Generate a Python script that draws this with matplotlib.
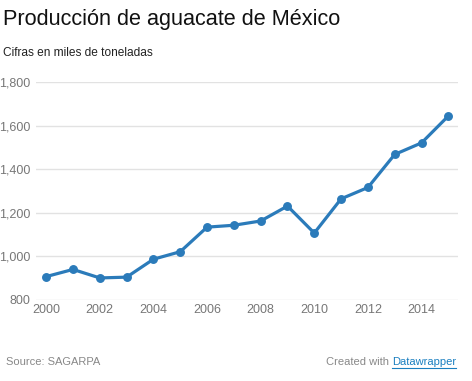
import matplotlib
matplotlib.use("Agg")
import matplotlib.pyplot as plt

years = [2000, 2001, 2002, 2003, 2004, 2005, 2006, 2007, 2008, 2009, 2010, 2011, 2012, 2013, 2014, 2015]
production = [907.4, 940.2, 901.2, 904.8, 987.1, 1021.5, 1134.2, 1142.9, 1162.4, 1230.9,
              1107.1, 1264.1, 1316.1, 1467.8, 1520.7, 1644.2]
y_ticks = [800, 1000, 1200, 1400, 1600, 1800]
y_tick_labels = ["800", "1,000", "1,200", "1,400", "1,600", "1,800"]
x_ticks = [2000, 2002, 2004, 2006, 2008, 2010, 2012, 2014]

plt.rcParams['font.family'] = ['Liberation Sans', 'DejaVu Sans']

W, H = 472, 381
fig = plt.figure(figsize=(W / 100, H / 100), dpi=100)
left, right, top, bottom = 36, 458, 82, 300
ax = fig.add_axes([left / W, 1 - bottom / H, (right - left) / W, (bottom - top) / H])

ax.plot(years, production, color="#2b7bba", linewidth=2.3, marker="o",
        markersize=5.4, solid_capstyle="round", zorder=3, clip_on=False)

ax.set_xlim(1999.62, 2015.36)
ax.set_ylim(800, 1800)
ax.set_yticks(y_ticks)
ax.set_yticklabels(y_tick_labels)
ax.set_xticks(x_ticks)
ax.set_xticklabels([str(x) for x in x_ticks])

for v in y_ticks:
    ax.axhline(v, color="#e2e2e2", linewidth=1.0, zorder=1)

for s in ax.spines.values():
    s.set_visible(False)
ax.tick_params(axis="both", length=0, labelsize=9, labelcolor="#777777")
ax.tick_params(axis="y", pad=4)
ax.tick_params(axis="x", pad=3)

fig.text(3 / W, 1 - 20 / H, "Producción de aguacate de México", fontsize=15.6,
         color="#111111", va="center", ha="left")
fig.text(3 / W, 1 - 53 / H, "Cifras en miles de toneladas", fontsize=8.6,
         color="#222222", va="center", ha="left")
fig.text(6 / W, 1 - 362 / H, "Source: SAGARPA", fontsize=8, color="#888888",
         va="center", ha="left")

t2 = fig.text(456 / W, 1 - 362 / H, "Datawrapper", fontsize=8, color="#1a7fc0",
              va="center", ha="right")
fig.canvas.draw()
bb = t2.get_window_extent()
fig.text(bb.x0 / W - 3 / W, 1 - 362 / H, "Created with", fontsize=8, color="#888888",
         va="center", ha="right")
fig.add_artist(plt.Line2D([bb.x0 / W, bb.x1 / W], [(bb.y0 - 0.5) / H, (bb.y0 - 0.5) / H],
                          color="#1a7fc0", linewidth=0.8, transform=fig.transFigure))

fig.savefig("out.png", dpi=100, facecolor="white")
